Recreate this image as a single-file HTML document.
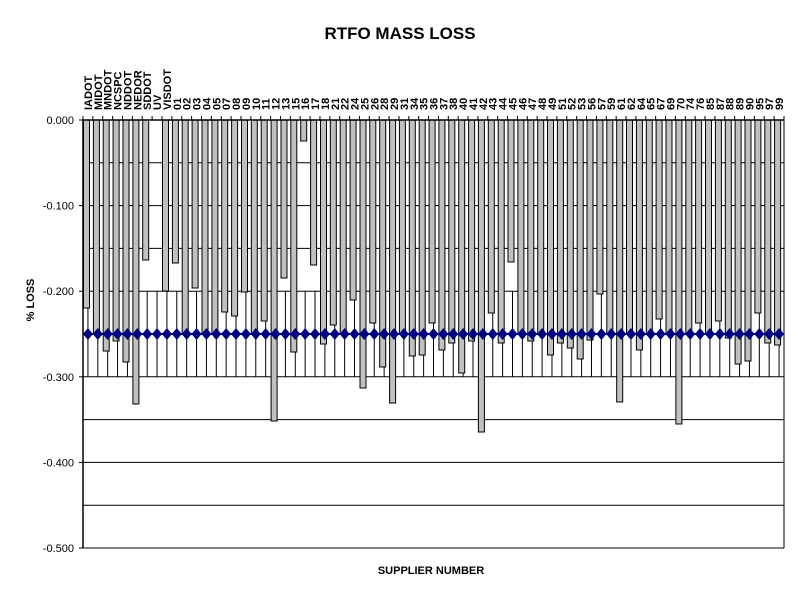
<!DOCTYPE html>
<html><head><meta charset="utf-8"><style>
html,body{margin:0;padding:0;background:#fff;}
svg{display:block;font-family:"Liberation Sans",Arial,sans-serif;}
</style></head><body>
<svg id="c" width="800" height="600" xmlns="http://www.w3.org/2000/svg">
<text x="400" y="39" text-anchor="middle" font-size="17" font-weight="bold">RTFO MASS LOSS</text>
<text x="431" y="574" text-anchor="middle" font-size="11" font-weight="bold">SUPPLIER NUMBER</text>
<text transform="translate(34,300) rotate(-90)" text-anchor="middle" font-size="11" font-weight="bold">% LOSS</text>
<g id="g"></g>
</svg>
<script>
var labels=["IADOT","MIDOT","MNDOT","NCSPC","NDDOT","NEDOR","SDDOT","UV","VISDOT","01","02","03","04","05","07","08","09","10","11","12","13","15","16","17","18","21","22","24","25","26","28","29","31","34","35","36","37","38","40","41","42","43","44","45","46","47","48","49","51","52","53","56","57","59","61","62","64","65","67","69","70","74","76","85","87","88","89","90","95","97","99"];
var ys=[308,334,351,341,362,404,260,null,291,263,334,288,334,334,312,316,292,334,321,421,278,352,141,265,344,325,334,300,388,323,367,403,334,356,355,323,350,343,373,341,432,313,343,262,334,341,334,355,343,348,359,340,294,334,402,334,350,334,319,334,424,334,323,334,321,338,364,361,313,343,345];
var L=83,R=784,T=120,B=548,n=labels.length,w=(R-L)/n;
var s='';
function ln(x1,y1,x2,y2,c,sw){s+='<line x1="'+x1+'" y1="'+y1+'" x2="'+x2+'" y2="'+y2+'" stroke="'+(c||'#000')+'" stroke-width="'+(sw||1)+'"/>';}
for(var i=0;i<=10;i++){var y=T+i*(B-T)/10;ln(L,y,R,y);}
for(var i=0;i<n;i++){var cx=L+(i+0.5)*w;ln(cx,291.2,cx,376.8);}
for(var i=0;i<n;i++){if(ys[i]==null)continue;var x=L+i*w+0.5;s+='<rect x="'+x.toFixed(1)+'" y="'+T+'" width="6" height="'+(ys[i]-T)+'" fill="#c0c0c0" stroke="#000" stroke-width="1"/>';}
ln(L,T,L,B,'#000',1.5);ln(R,T,R,B);ln(L,T,R,T,'#000',1.5);
for(var i=0;i<=n;i++){var x=L+i*w;ln(x,116,x,T);}
for(var i=0;i<=5;i++){var y=T+i*(B-T)/5;ln(79,y,L,y);s+='<text x="74" y="'+(y+4)+'" text-anchor="end" font-size="11">'+(i==0?'0.000':'-0.'+i+'00')+'</text>';}
var dy=334;ln(L+w/2,dy,R-w/2,dy,'#000080',2);
for(var i=0;i<n;i++){var cx=L+(i+0.5)*w;s+='<polygon points="'+(cx-5)+','+dy+' '+cx+','+(dy-6)+' '+(cx+5)+','+dy+' '+cx+','+(dy+6)+'" fill="#000080"/>';}
for(var i=0;i<n;i++){var cx=L+(i+0.5)*w+4;s+='<text transform="translate('+cx.toFixed(1)+',110) rotate(-90)" font-size="11" font-weight="bold">'+labels[i]+'</text>';}
document.getElementById('g').innerHTML=s;
</script>
</body></html>
